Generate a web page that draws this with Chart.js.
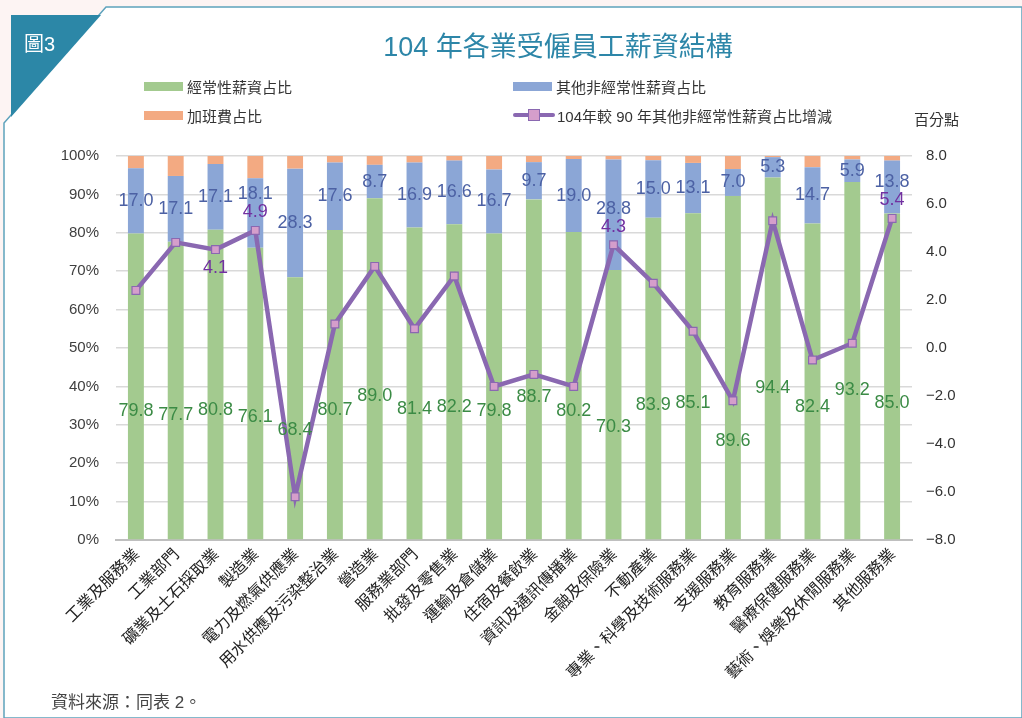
<!DOCTYPE html>
<html lang="zh-Hant">
<head>
<meta charset="utf-8">
<title>104 年各業受僱員工薪資結構</title>
<script src="https://cdn.jsdelivr.net/npm/chart.js"></script>
<style>
    html, body { margin: 0; padding: 0; }
    body {
        width: 1022px; height: 718px; position: relative; overflow: hidden;
        background: #FDF4F3;
        font-family: "Liberation Sans", Arial, "Noto Sans CJK TC", sans-serif;
    }
    #frame { position: absolute; left: 0; top: 0; }
    #wageChart { position: absolute; left: 0; top: 0; }
    .txt { position: absolute; white-space: nowrap; }
    .cjk { font-family: "Liberation Sans", Arial, "Noto Sans CJK TC", sans-serif; }
    #figNo { left: 24px; top: 28px; font-size: 20px; color: #fff; }
    #title { left: 0; width: 1116px; top: 25px; text-align: center; font-size: 27px; color: #2D86A8; }
    #unit { left: 914px; top: 108px; font-size: 15px; color: #333; }
    #source { left: 51px; top: 688px; font-size: 17px; color: #444; }
    .legend-item { position: absolute; font-size: 15px; color: #333; display: flex; align-items: center; height: 20px; }
    .swatch { width: 39px; height: 9px; margin-right: 4px; }
    .line-key { width: 42px; height: 12px; margin-right: 2px; position: relative; }
    .line-key .bar { position: absolute; left: 0; right: 0; top: 4px; height: 4px; background: #8A68B1; border-radius: 2px; }
    .line-key .box { position: absolute; left: 15px; top: 0; width: 10px; height: 10px; background: #D59ECB; border: 1px solid #8A68B1; }
</style>
</head>
<body>
<svg id="frame" width="1022" height="718">
    <polygon points="4,718 4,123 106,7 1022,7 1022,718" fill="#ffffff" stroke="#5EA2BC" stroke-width="1.5"/>
    <polygon points="11,15 101,15 11,117" fill="#2C87A7"/>
</svg>
<canvas id="wageChart" width="1022" height="718"></canvas>
<div id="figNo" class="txt cjk">圖3</div>
<div id="title" class="txt cjk">104 年各業受僱員工薪資結構</div>
<div id="legend"></div>
<div id="unit" class="txt cjk">百分點</div>
<div id="source" class="txt cjk">資料來源：同表 2。</div>
<script>
// 行業別（X 軸）
const industries = [
    "工業及服務業", "工業部門", "礦業及土石採取業", "製造業", "電力及燃氣供應業",
    "用水供應及污染整治業", "營造業", "服務業部門", "批發及零售業", "運輸及倉儲業",
    "住宿及餐飲業", "資訊及通訊傳播業", "金融及保險業", "不動產業", "專業、科學及技術服務業",
    "支援服務業", "教育服務業", "醫療保健服務業", "藝術、娛樂及休閒服務業", "其他服務業"
];

// 經常性薪資占比（%）
const regularShare = [79.8, 77.7, 80.8, 76.1, 68.4, 80.7, 89.0, 81.4, 82.2, 79.8,
                      88.7, 80.2, 70.3, 83.9, 85.1, 89.6, 94.4, 82.4, 93.2, 85.0];
// 其他非經常性薪資占比（%）
const otherShare = [17.0, 17.1, 17.1, 18.1, 28.3, 17.6, 8.7, 16.9, 16.6, 16.7,
                    9.7, 19.0, 28.8, 15.0, 13.1, 7.0, 5.3, 14.7, 5.9, 13.8];
// 加班費占比（%）
const overtimeShare = [3.2, 5.2, 2.1, 5.8, 3.3, 1.7, 2.3, 1.7, 1.2, 3.5,
                       1.6, 0.8, 0.9, 1.1, 1.8, 3.4, 0.3, 2.9, 0.9, 1.2];
// 104 年較 90 年其他非經常性薪資占比增減（百分點）
const otherShareChange = [2.4, 4.4, 4.1, 4.9, -6.2, 1.0, 3.4, 0.8, 3.0, -1.6,
                          -1.1, -1.6, 4.3, 2.7, 0.7, -2.2, 5.3, -0.5, 0.2, 5.4];

// 右軸刻度
const changeTicks = [-8, -6, -4, -2, 0, 2, 4, 6, 8];

// 原圖只有少數幾個增減點有標數字
const CHANGE_LABELS_ABOVE = [3, 12, 19];
const CHANGE_LABELS_BELOW = [2];

const COLORS = {
    regular: "#A3CA8F",
    other: "#8BA6D6",
    overtime: "#F3AA82",
    line: "#8A68B1",
    point: "#D59ECB"
};

const LATIN = '"Liberation Sans", Arial, sans-serif';
const CJK = '"Noto Sans CJK TC", "Liberation Sans", sans-serif';

const SERIES = [
    { label: "經常性薪資占比", type: "bar" },
    { label: "其他非經常性薪資占比", type: "bar" },
    { label: "加班費占比", type: "bar" },
    { label: "104年較 90 年其他非經常性薪資占比增減", type: "line" }
];

// 圖例：兩欄兩列，照原圖排
function renderLegend() {
    const spots = [[144, 76], [513, 76], [144, 105], [513, 105]];
    const swatchColors = [COLORS.regular, COLORS.other, COLORS.overtime];
    const container = document.getElementById("legend");
    SERIES.forEach((s, i) => {
        const item = document.createElement("div");
        item.className = "legend-item cjk";
        item.style.left = spots[i][0] + "px";
        item.style.top = spots[i][1] + "px";
        const key = s.type === "bar"
            ? `<span class="swatch" style="background:${swatchColors[i]}"></span>`
            : `<span class="line-key"><span class="bar"></span><span class="box"></span></span>`;
        item.innerHTML = key + s.label;
        container.appendChild(item);
    });
}

// 在長條與折線上畫數值標籤
const valueLabels = {
    id: "valueLabels",
    afterDatasetsDraw(chart) {
        const ctx = chart.ctx;
        const yPct = chart.scales.yPct;
        const barMeta = chart.getDatasetMeta(0);
        const lineMeta = chart.getDatasetMeta(3);
        ctx.save();
        ctx.font = "18px " + LATIN;
        ctx.textAlign = "center";
        ctx.textBaseline = "middle";

        // 折線標籤的位置，藍色標籤要避開它
        const changeLabelY = {};
        CHANGE_LABELS_ABOVE.forEach((i) => { changeLabelY[i] = lineMeta.data[i].y - 18; });
        CHANGE_LABELS_BELOW.forEach((i) => { changeLabelY[i] = lineMeta.data[i].y + 18; });

        regularShare.forEach((v, i) => {
            const x = barMeta.data[i].x;
            const pointY = lineMeta.data[i].y;

            // 綠色標籤放在長條偏下的位置，太靠近折線點就往下移
            let greenY = yPct.getPixelForValue(v * 0.42);
            if (Math.abs(greenY - pointY) < 20) {
                greenY = pointY + 40;
            }
            ctx.fillStyle = "#3B8B45";
            ctx.fillText(v.toFixed(1), x, greenY);

            let blueY = yPct.getPixelForValue(v + otherShare[i] / 2);
            if (CHANGE_LABELS_ABOVE.includes(i)) {
                blueY = Math.min(blueY, changeLabelY[i] - 18);
            }
            ctx.fillStyle = "#4C61A4";
            ctx.fillText(otherShare[i].toFixed(1), x, blueY);
        });

        ctx.fillStyle = "#7130A0";
        Object.keys(changeLabelY).forEach((i) => {
            ctx.fillText(otherShareChange[i].toFixed(1), lineMeta.data[i].x, changeLabelY[i]);
        });
        ctx.restore();
    }
};

renderLegend();

new Chart(document.getElementById("wageChart"), {
    data: {
        labels: industries,
        datasets: [
            { type: "bar", label: SERIES[0].label, data: regularShare, backgroundColor: COLORS.regular,
              stack: "wage", yAxisID: "yPct", order: 1, barPercentage: 0.4, categoryPercentage: 1 },
            { type: "bar", label: SERIES[1].label, data: otherShare, backgroundColor: COLORS.other,
              stack: "wage", yAxisID: "yPct", order: 1, barPercentage: 0.4, categoryPercentage: 1 },
            { type: "bar", label: SERIES[2].label, data: overtimeShare, backgroundColor: COLORS.overtime,
              stack: "wage", yAxisID: "yPct", order: 1, barPercentage: 0.4, categoryPercentage: 1 },
            { type: "line", label: SERIES[3].label, data: otherShareChange, yAxisID: "yChange", order: 0,
              borderColor: COLORS.line, borderWidth: 4.5, pointStyle: "rect", pointRadius: 5.5,
              pointBackgroundColor: COLORS.point, pointBorderColor: COLORS.line, pointBorderWidth: 1.2,
              tension: 0 }
        ]
    },
    options: {
        responsive: false,
        animation: false,
        devicePixelRatio: 1,
        layout: { padding: { top: 156, left: 0, right: 0, bottom: 0 } },
        plugins: { legend: { display: false }, tooltip: { enabled: false } },
        scales: {
            x: {
                stacked: true,
                grid: { display: false, drawTicks: false },
                border: { color: "#BFBFBF", width: 2 },
                ticks: { autoSkip: false, minRotation: 45, maxRotation: 45, padding: 4,
                         color: "#222", font: { family: CJK, size: 16 } },
                afterFit(scale) { scale.height = 178; }
            },
            yPct: {
                position: "left",
                stacked: true,
                min: 0, max: 100,
                grid: { color: "#D9D9D9", lineWidth: 1.5, drawTicks: false },
                border: { display: false },
                ticks: { stepSize: 10, padding: 17, color: "#404040",
                         font: { family: LATIN, size: 15 }, callback: (v) => v + "%" },
                afterFit(scale) { scale.width = 116; }
            },
            yChange: {
                position: "right",
                min: -8, max: 8,
                grid: { display: false, drawTicks: false },
                border: { display: false },
                afterBuildTicks(scale) { scale.ticks = changeTicks.map((v) => ({ value: v })); },
                ticks: { padding: 14, color: "#333",
                         font: { family: LATIN, size: 15 },
                         callback: (v) => (v < 0 ? "\u2212" : "") + Math.abs(v).toFixed(1) },
                afterFit(scale) { scale.width = 110; }
            }
        }
    },
    plugins: [valueLabels]
});
</script>
</body>
</html>
